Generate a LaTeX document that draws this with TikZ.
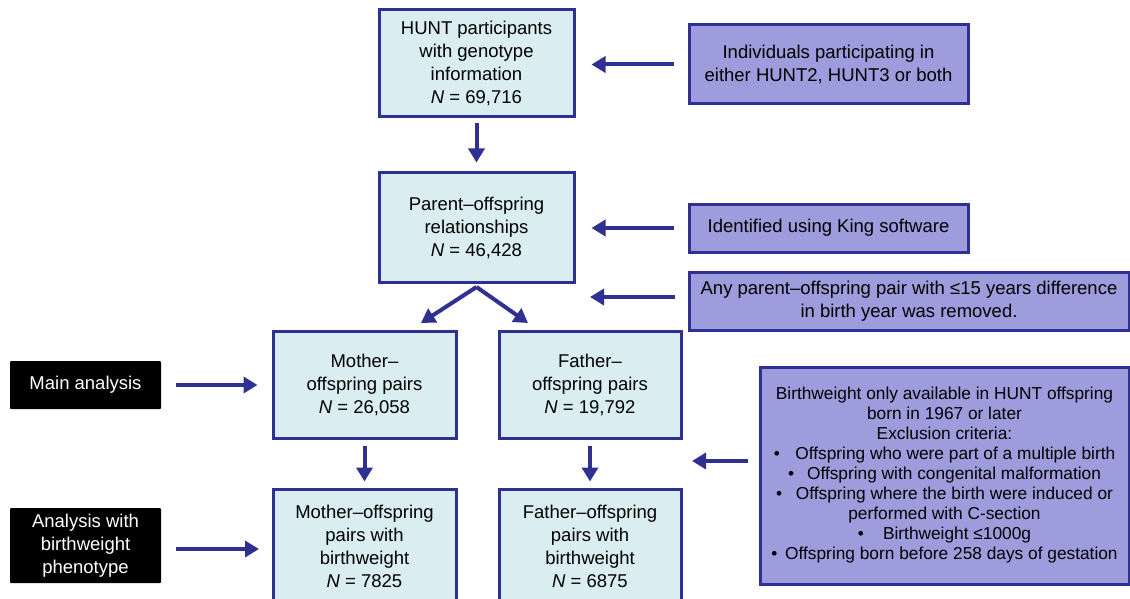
\documentclass[tikz,border=0pt]{standalone}
\usepackage{fontspec}
\setmainfont{Liberation Sans}
\usetikzlibrary{arrows.meta}
\definecolor{bord}{HTML}{2E3192}
\definecolor{cyanfill}{HTML}{DAEDF0}
\definecolor{lav}{HTML}{9D9CDC}
\tikzset{
  mainbox/.style={draw=bord, line width=3pt, fill=cyanfill, align=center, font=\fontsize{18.5}{23}\selectfont, inner sep=0pt},
  sidebox/.style={draw=bord, line width=3pt, fill=lav, align=center, font=\fontsize{18.5}{23}\selectfont, inner sep=0pt},
  blackbox/.style={fill=black, text=white, align=center, font=\fontsize{18.5}{23}\selectfont, inner sep=0pt, rounded corners=1pt},
  arr/.style={draw=bord, line width=4pt, -{Triangle[width=16pt,length=14pt]}},
}
\begin{document}
\begin{tikzpicture}[x=1pt,y=-1pt]
\useasboundingbox (0,0) rectangle (1130,599);
\clip (0,0) rectangle (1130,599);
% main column
\node[mainbox, minimum width=195pt, minimum height=107pt] (top) at (476.5,63.5) {HUNT participants\\with genotype\\information\\\textit{N} = 69,716};
\node[mainbox, minimum width=195pt, minimum height=109pt] (par) at (476.5,227.5) {Parent--offspring\\relationships\\\textit{N} = 46,428};
\node[mainbox, minimum width=183pt, minimum height=107pt] (mo) at (364.5,384.5) {Mother--\\offspring pairs\\\textit{N} = 26,058};
\node[mainbox, minimum width=182pt, minimum height=107pt] (fa) at (590,384.5) {Father--\\offspring pairs\\\textit{N} = 19,792};
\node[mainbox, minimum width=183pt, minimum height=114pt] (mobw) at (364.5,546) {Mother--offspring\\pairs with\\birthweight\\\textit{N} = 7825};
\node[mainbox, minimum width=182pt, minimum height=114pt] (fabw) at (590,546) {Father--offspring\\pairs with\\birthweight\\\textit{N} = 6875};
% side boxes
\node[sidebox, minimum width=279pt, minimum height=79pt] (r1) at (828.5,64.5) {Individuals participating in\\either HUNT2, HUNT3 or both};
\node[sidebox, minimum width=279pt, minimum height=48pt] (r2) at (828.5,228) {Identified using King software};
\node[sidebox, minimum width=440pt, minimum height=58pt] (r3) at (909,301) {Any parent--offspring pair with ≤15 years difference\\in birth year was removed.};
\node[sidebox, minimum width=369pt, minimum height=217pt, font=\fontsize{17.3}{20}\selectfont] (r4) at (944.5,475.5) {Birthweight only available in HUNT offspring\\born in 1967 or later\\Exclusion criteria:\\\textbullet\hspace{0.9em}Offspring who were part of a multiple birth\\\textbullet\hspace{0.75em}Offspring with congenital malformation\\\textbullet\hspace{0.8em}Offspring where the birth were induced or\\performed with C-section\\\textbullet\hspace{1.1em}Birthweight ≤1000g\\\textbullet\hspace{0.45em}Offspring born before 258 days of gestation};
% black boxes
\node[blackbox, minimum width=151pt, minimum height=48pt] (main) at (85.5,385) {Main analysis};
\node[blackbox, minimum width=151pt, minimum height=75pt] (ana) at (85.5,545.5) {Analysis with\\birthweight\\phenotype};
% connectors
\draw[arr, shorten <=14pt, shorten >=16pt] (r1.west) -- (r1.west -| top.east);
\draw[arr, shorten <=14pt, shorten >=16pt] (r2.west) -- (r2.west -| par.east);
\coordinate (r3a) at (675,297);
\coordinate (r3b) at (590,297);
\draw[arr] (r3a) -- (r3b);
\draw[arr, shorten <=5pt, shorten >=9pt] (top.south) -- (par.north);
\coordinate (sp) at (476.5,287);
\coordinate (spl) at (421,323);
\coordinate (spr) at (528,323);
\draw[arr] (sp) -- (spl);
\draw[arr] (sp) -- (spr);
\draw[arr, shorten <=6pt, shorten >=6pt] (mo.south) -- (mobw.north);
\draw[arr, shorten <=6pt, shorten >=6pt] (fa.south) -- (fabw.north);
\draw[arr, shorten <=15pt, shorten >=14pt] (main.east) -- (main.east -| mo.west);
\coordinate (anaa) at (176,549);
\coordinate (anab) at (259,549);
\draw[arr] (anaa) -- (anab);
\coordinate (r4a) at (748,461);
\coordinate (r4b) at (692,461);
\draw[arr] (r4a) -- (r4b);
\end{tikzpicture}
\end{document}
